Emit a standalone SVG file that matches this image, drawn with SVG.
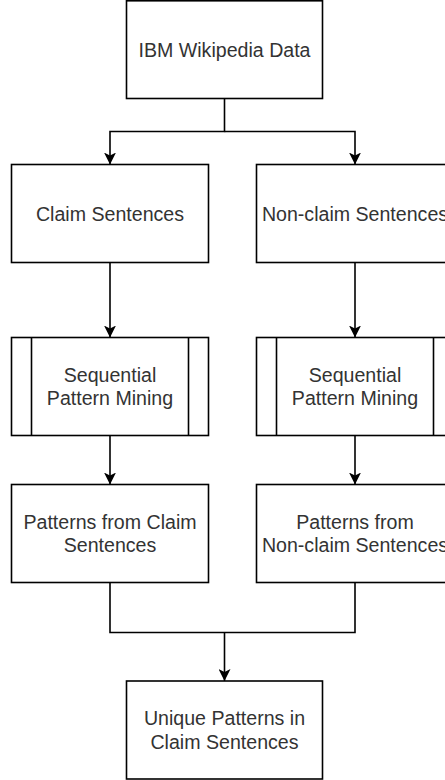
<svg xmlns="http://www.w3.org/2000/svg" width="445" height="780" viewBox="0 0 445 780">
<style>
.box{fill:#fff;stroke:#000;stroke-width:1.6}
.ln{fill:none;stroke:#000;stroke-width:1.6}
.t{font-family:"Liberation Sans",Arial,sans-serif;font-size:19.6px;fill:#333;text-anchor:middle;dominant-baseline:central}
</style>
<defs>
<marker id="arr" markerUnits="userSpaceOnUse" viewBox="0 0 12 12" markerWidth="12" markerHeight="12" refX="12" refY="6" orient="auto">
<path d="M0,0 L12,6 L0,12 L3,6 z" fill="#000"/>
</marker>
</defs>
<rect width="445" height="780" fill="#fff"/>
<g id="connectors">
<path class="ln" d="M224.5,98.5 V131.5 H110 V164.5" marker-end="url(#arr)"/>
<path class="ln" d="M224.5,131.5 H355 V164.5" marker-end="url(#arr)"/>
<path class="ln" d="M110,262.5 V337.5" marker-end="url(#arr)"/>
<path class="ln" d="M355,262.5 V337.5" marker-end="url(#arr)"/>
<path class="ln" d="M110,435.5 V484.5" marker-end="url(#arr)"/>
<path class="ln" d="M355,435.5 V484.5" marker-end="url(#arr)"/>
<path class="ln" d="M110,582.5 V632.5 H355 V582.5"/>
<path class="ln" d="M224.5,632.5 V681" marker-end="url(#arr)"/>
</g>
<g id="ibm">
<rect class="box" x="126.5" y="0.8" width="196" height="97.7"/>
<text class="t" x="224.5" y="49.5">IBM Wikipedia Data</text>
</g>
<g id="claim">
<rect class="box" x="11.5" y="164.5" width="197" height="98"/>
<text class="t" x="110" y="213.5">Claim Sentences</text>
</g>
<g id="nonclaim">
<rect class="box" x="256.5" y="164.5" width="197" height="98"/>
<text class="t" x="355" y="213.5">Non-claim Sentences</text>
</g>
<g id="spm-left">
<rect class="box" x="11.5" y="337.5" width="197" height="98"/>
<line class="ln" x1="31.5" y1="337.5" x2="31.5" y2="435.5"/>
<line class="ln" x1="188.5" y1="337.5" x2="188.5" y2="435.5"/>
<text class="t" x="110" y="374.8">Sequential</text>
<text class="t" x="110" y="398.3">Pattern Mining</text>
</g>
<g id="spm-right">
<rect class="box" x="256.5" y="337.5" width="197" height="98"/>
<line class="ln" x1="276.5" y1="337.5" x2="276.5" y2="435.5"/>
<line class="ln" x1="433.5" y1="337.5" x2="433.5" y2="435.5"/>
<text class="t" x="355" y="374.8">Sequential</text>
<text class="t" x="355" y="398.3">Pattern Mining</text>
</g>
<g id="patterns-claim">
<rect class="box" x="11.5" y="484.5" width="197" height="98"/>
<text class="t" x="110" y="521.8">Patterns from Claim</text>
<text class="t" x="110" y="545.3">Sentences</text>
</g>
<g id="patterns-nonclaim">
<rect class="box" x="256.5" y="484.5" width="197" height="98"/>
<text class="t" x="355" y="521.8">Patterns from</text>
<text class="t" x="355" y="545.3">Non-claim Sentences</text>
</g>
<g id="unique">
<rect class="box" x="126.5" y="681" width="196" height="98"/>
<text class="t" x="224.5" y="718.3">Unique Patterns in</text>
<text class="t" x="224.5" y="741.8">Claim Sentences</text>
</g>
</svg>
